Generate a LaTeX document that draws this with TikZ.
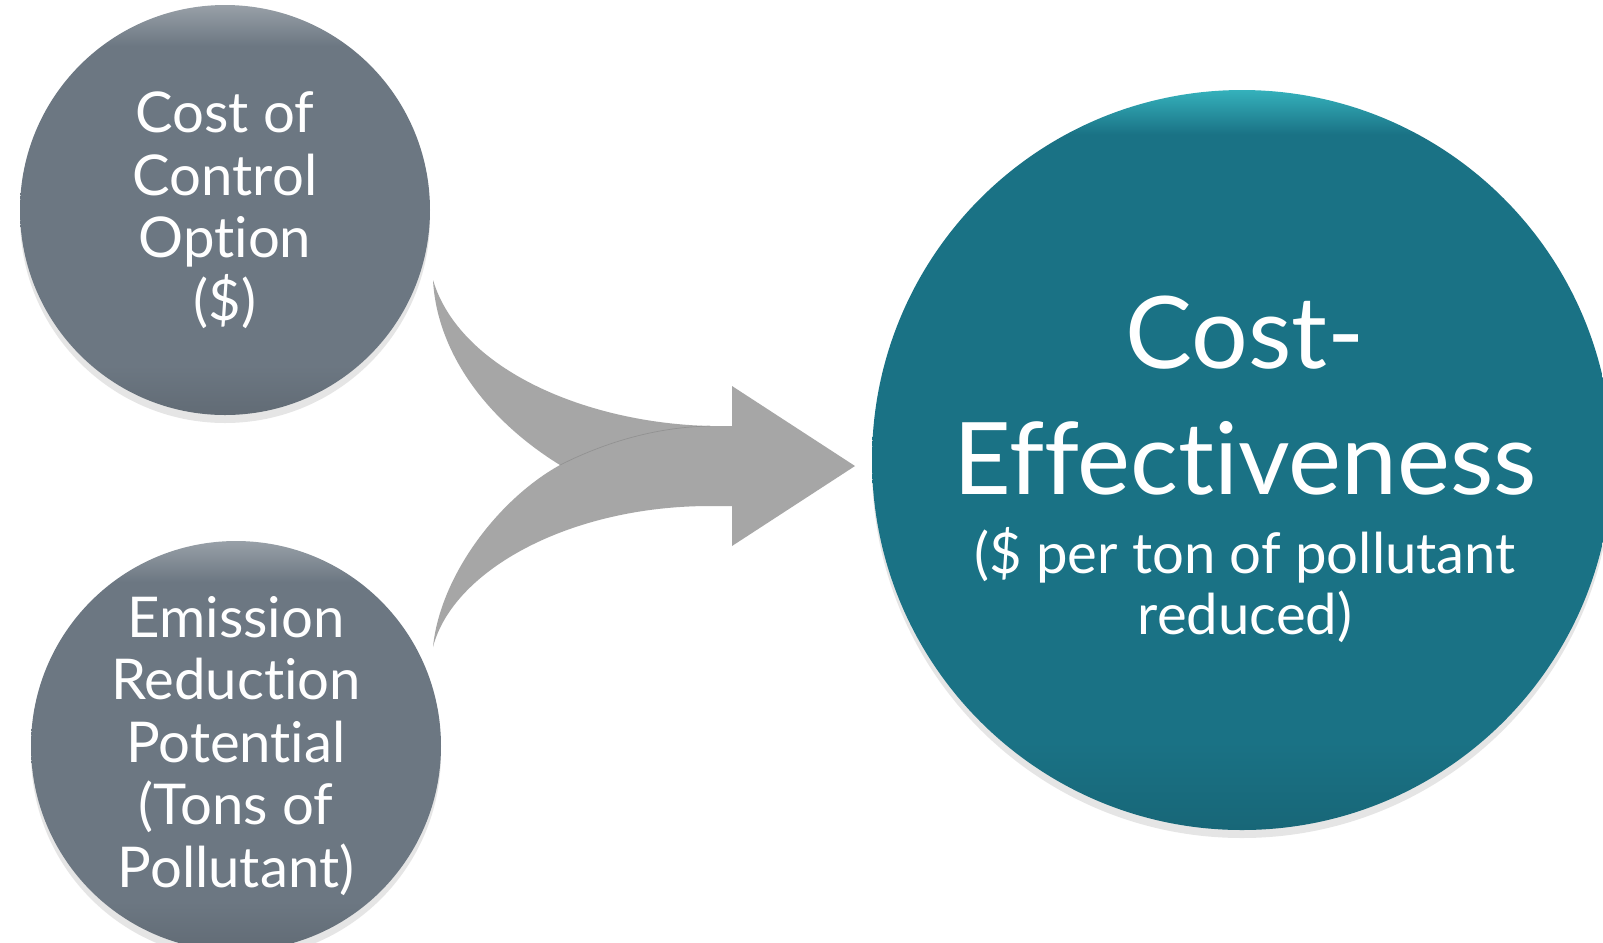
\documentclass[tikz,border=0pt]{standalone}
\usepackage{fontspec}
\setmainfont{Lato}[Ligatures={NoCommon}]
\usepackage{tikz}
\usetikzlibrary{shadows, positioning}

\definecolor{slate}{RGB}{108,119,130}
\definecolor{petrol}{RGB}{26,114,133}
\definecolor{shaft}{RGB}{166,166,166}

% flat fill, a light rim on top and a slightly darker bottom
\pgfdeclareverticalshading{slatedome}{100bp}{color(0bp)=(slate!90!black); color(25bp)=(slate!90!black);
  color(31bp)=(slate); color(70bp)=(slate); color(75bp)=(slate!70!white); color(100bp)=(slate!70!white)}
\pgfdeclareverticalshading{petroldome}{100bp}{color(0bp)=(petrol!90!black); color(25bp)=(petrol!90!black);
  color(31bp)=(petrol); color(72bp)=(petrol); color(75bp)=(petrol!65!cyan!85!white); color(100bp)=(petrol!65!cyan!85!white)}

\tikzset{
  bubble/.style={circle, inner sep=0pt, text=white, align=center, shade,
    drop shadow={opacity=0.2, shadow xshift=0pt, shadow yshift=-0.8mm}},
  small bubble/.style={bubble, minimum size=41mm, shading=slatedome,
    font=\fontsize{16}{17.8}\selectfont},
  big bubble/.style={bubble, minimum size=74mm, shading=petroldome},
  headline/.style={text=white, align=center, inner sep=0pt, font=\fontsize{28.5}{35.8}\selectfont},
  subline/.style={text=white, align=center, inner sep=0pt, font=\fontsize{16}{17.4}\selectfont},
}

\begin{document}
\begin{tikzpicture}[x=0.1mm, y=-0.1mm, line cap=round]
	\useasboundingbox (0,0) rectangle (1603,942);
	\fill[white] (0,0) rectangle (1603,942);

	% the two inputs
	\node[small bubble] (cost) at (225,210) {Cost of\\Control\\Option\\(\$)};
	\node[small bubble] (tons) at (236,746) {Emission\\Reduction\\Potential\\(Tons of\\Pollutant)};

	% merging arrow
	\fill[shaft] (433,280) .. controls (460,370) and (587,423) .. (710,426) -- (732,426) -- (732,386)
		-- (855,466) -- (732,546) -- (732,506) -- (710,506)
		.. controls (570,506) and (453,570) .. (433,647)
		.. controls (440,577) and (497,500) .. (560,465)
		.. controls (487,420) and (437,353) .. (433,280) -- cycle;
	\draw[shaft!70!black, very thin, opacity=.4] (560,465) .. controls (610,440) and (660,427) .. (710,426);

	% result
	\node[big bubble] (ce) at (1242,460) {};
	\node[headline] (ce title) at (1245,396) {Cost-\\Effectiveness};
	\node[subline, below=3mm of ce title] (ce unit) {(\$ per ton of pollutant\\reduced)};
\end{tikzpicture}
\end{document}
